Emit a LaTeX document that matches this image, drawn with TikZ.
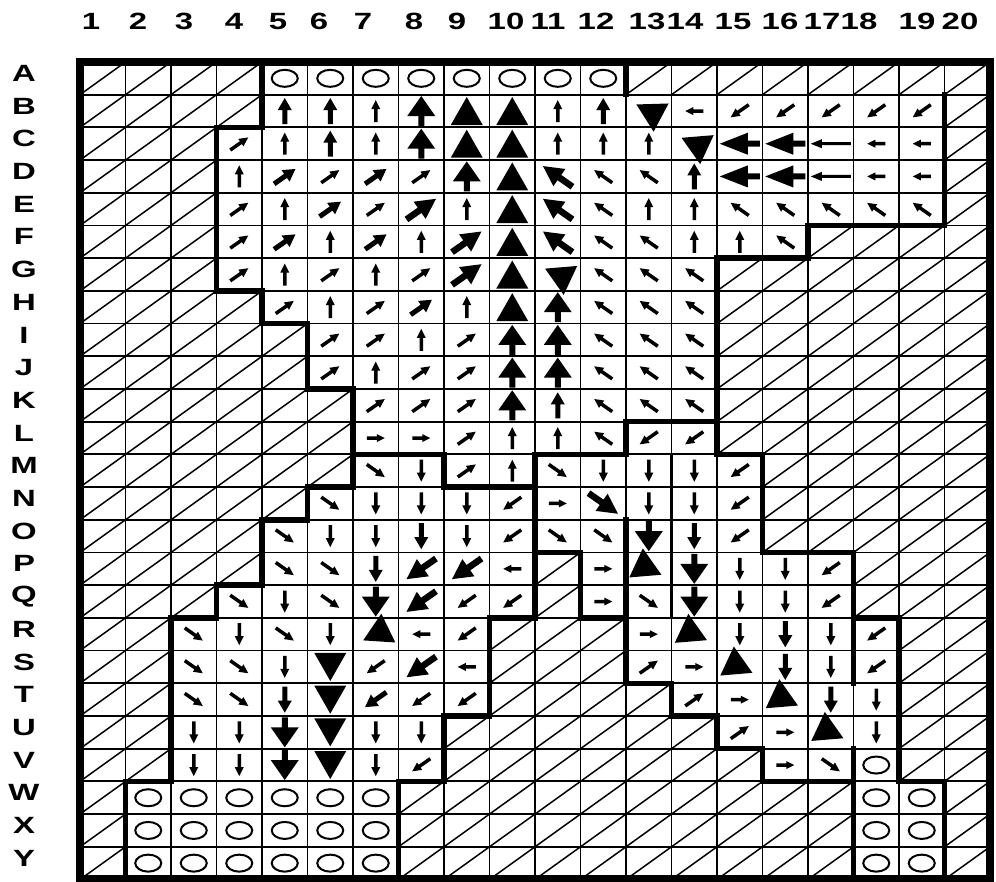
\documentclass[tikz,border=0pt]{standalone}
\usepackage{fontspec}
\setmainfont{Liberation Sans}
\newcommand\arrowshape[7]{%
  \pgfmathsetmacro\ax{80+45.5*(#1-0.5)}%
  \pgfmathsetmacro\ay{820-32.7*(#2-0.5)}%
  \fill[shift={(\ax pt,\ay pt)},rotate=#3]
    ({-#4/2},{-#7/2}) -- ({#4/2-#5},{-#7/2}) -- ({#4/2-#5},{-#6/2}) -- ({#4/2},0)
    -- ({#4/2-#5},{#6/2}) -- ({#4/2-#5},{#7/2}) -- ({-#4/2},{#7/2}) -- cycle;}
\newcommand\glS[3]{\arrowshape{#1}{#2}{#3}{22}{9}{9}{3.5}}
\newcommand\glM[3]{\arrowshape{#1}{#2}{#3}{26}{12}{14}{5}}
\newcommand\glL[3]{\arrowshape{#1}{#2}{#3}{36}{20}{21}{6.5}}
\newcommand\glW[3]{\arrowshape{#1}{#2}{#3}{40}{28}{22}{6}}
\newcommand\glG[3]{\arrowshape{#1}{#2}{#3}{40}{11}{9}{3}}
\newcommand\glH[3]{\arrowshape{#1}{#2}{#3}{18}{8}{8}{3.5}}
\newcommand\glA[3]{\arrowshape{#1}{#2}{#3}{30}{20}{28}{6}}
\newcommand\glT[3]{\arrowshape{#1}{#2}{#3}{28}{28}{32}{0}}
\newcommand\labtext[1]{\scalebox{1.4}[1]{\bfseries\fontsize{23.5}{24}\selectfont #1}}
\begin{document}
\begin{tikzpicture}[x=1pt,y=1pt,
  gridline/.style={line width=1.8pt},
  hatchline/.style={line width=1.5pt},
  bound/.style={line width=5.5pt,line cap=rect,line join=miter},
  midbound/.style={line width=3pt},
  outer/.style={line width=8pt},
  circ/.style={line width=2pt},
  lab/.style={inner sep=0pt,anchor=center}]
\fill[white] (0,0) rectangle (996,882);
\useasboundingbox (0,0) rectangle (996,882);
\begin{scope}[shift={(80pt,820pt)},x=45.5pt,y=-32.7pt]
  % hatched cells
  \foreach \r/\a/\b in {1/1/4,1/13/20,2/1/4,2/20/20,3/1/3,3/20/20,4/1/3,4/20/20,5/1/3,5/20/20,
    6/1/3,6/17/20,7/1/3,7/15/20,8/1/4,8/15/20,9/1/5,9/15/20,10/1/5,10/15/20,
    11/1/6,11/15/20,12/1/6,12/15/20,13/1/6,13/16/20,14/1/5,14/16/20,15/1/4,15/16/20,
    16/1/4,16/11/11,16/18/20,17/1/3,17/11/11,17/18/20,18/1/2,18/10/12,18/19/20,
    19/1/2,19/10/12,19/19/20,20/1/2,20/10/13,20/19/20,21/1/2,21/9/14,21/19/20,
    22/1/2,22/9/15,22/19/20,23/1/1,23/8/17,23/20/20,24/1/1,24/8/17,24/20/20,
    25/1/1,25/8/17,25/20/20}
    {\foreach \c in {\a,...,\b} {\draw[hatchline] (\c-1,\r) -- (\c,\r-1);}}
  % grid
  \foreach \i in {1,...,19} {\draw[gridline] (\i,0) -- (\i,25);}
  \foreach \j in {1,...,24} {\draw[gridline] (0,\j) -- (20,\j);}
  % circles
  \foreach \c/\r in {5/1,6/1,7/1,8/1,9/1,10/1,11/1,12/1,18/22,
    2/23,3/23,4/23,5/23,6/23,7/23,18/23,19/23,
    2/24,3/24,4/24,5/24,6/24,7/24,18/24,19/24,
    2/25,3/25,4/25,5/25,6/25,7/25,18/25,19/25}
    {\draw[circ] (\c-0.5,\r-0.5) ellipse [x radius=13pt, y radius=8.5pt];}
  % boundaries
  \draw[bound] (4,0)--(4,2)--(3,2)--(3,7)--(4,7)--(4,8)--(5,8)--(5,10)--(6,10)--(6,13)--(5,13)--(5,14)--(4,14)--(4,16)--(3,16)--(3,17)--(2,17)--(2,22)--(1,22)--(1,25);
  \draw[bound] (6,12)--(8,12)--(8,13)--(10,13)--(10,12)--(12,12)--(12,11)--(14,11)--(14,6)--(16,6)--(16,5)--(19,5)--(19,1);
  \draw[bound] (12,0)--(12,1);
  \draw[bound] (10,13)--(10,17)--(9,17)--(9,20)--(8,20)--(8,22)--(7,22)--(7,25);
  \draw[bound] (10,15)--(11,15)--(11,17)--(12,17)--(12,19)--(13,19)--(13,20)--(14,20)--(14,21)--(15,21)--(15,22)--(17,22)--(17,25);
  \draw[bound] (14,11)--(14,12)--(15,12)--(15,15)--(17,15)--(17,19);
  \draw[bound] (17,17)--(18,17)--(18,22)--(19,22)--(19,25);
  \draw[bound] (17,21)--(17,22);
  \draw[bound] (12,14)--(12,17);
  \draw[midbound] (13,12)--(13,17);
  \draw[outer] (0,0) rectangle (20,25);
\end{scope}
% arrows
\foreach \c/\r/\a/\t in {
  5/2/90/M,6/2/90/M,7/2/90/S,8/2/90/A,9/2/90/T,10/2/90/T,11/2/90/S,12/2/90/M,13/2/152/T,14/2/180/H,
  15/2/215/S,16/2/215/S,17/2/215/S,18/2/215/S,19/2/215/S,
  4/3/35/S,5/3/90/S,6/3/90/M,7/3/90/S,8/3/90/A,9/3/90/T,10/3/90/T,11/3/90/S,12/3/90/S,13/3/90/S,
  14/3/155/T,15/3/180/W,16/3/180/W,17/3/180/G,18/3/180/H,19/3/180/H,
  4/4/90/S,5/4/35/M,6/4/35/S,7/4/35/M,8/4/35/S,9/4/90/A,10/4/90/T,11/4/145/L,12/4/145/S,13/4/145/S,
  14/4/90/M,15/4/180/W,16/4/180/W,17/4/180/G,18/4/180/H,19/4/180/H,
  4/5/35/S,5/5/90/S,6/5/35/M,7/5/35/S,8/5/35/L,9/5/90/S,10/5/90/T,11/5/145/L,12/5/145/S,13/5/90/S,
  14/5/90/S,15/5/145/S,16/5/145/S,17/5/145/S,18/5/145/S,19/5/145/S,
  4/6/35/S,5/6/35/M,6/6/90/S,7/6/35/M,8/6/90/S,9/6/35/L,10/6/90/T,11/6/145/L,12/6/145/S,13/6/145/S,
  14/6/90/S,15/6/90/S,16/6/145/S,
  4/7/35/S,5/7/90/S,6/7/35/S,7/7/90/S,8/7/35/S,9/7/35/L,10/7/90/T,11/7/155/T,12/7/145/S,13/7/145/S,14/7/145/S,
  5/8/35/S,6/8/90/S,7/8/35/S,8/8/35/M,9/8/90/S,10/8/90/T,11/8/90/A,12/8/145/S,13/8/145/S,14/8/145/S,
  6/9/35/S,7/9/35/S,8/9/90/S,9/9/35/S,10/9/90/A,11/9/90/A,12/9/145/S,13/9/145/S,14/9/145/S,
  6/10/35/S,7/10/90/S,8/10/35/S,9/10/35/S,10/10/90/A,11/10/90/A,12/10/145/S,13/10/145/S,14/10/145/S,
  7/11/35/S,8/11/35/S,9/11/35/S,10/11/90/A,11/11/90/M,12/11/145/S,13/11/145/S,14/11/145/S,
  7/12/0/H,8/12/0/H,9/12/35/S,10/12/90/S,11/12/90/S,12/12/145/S,13/12/215/S,14/12/215/S,
  7/13/-35/S,8/13/-90/S,9/13/35/S,10/13/90/S,11/13/-35/S,12/13/-90/S,13/13/-90/S,14/13/-90/S,15/13/215/S,
  6/14/-35/S,7/14/-90/S,8/14/-90/S,9/14/-90/S,10/14/215/S,11/14/0/H,12/14/-35/L,13/14/-90/S,14/14/-90/S,15/14/215/S,
  5/15/-35/S,6/15/-90/S,7/15/-90/S,8/15/-90/M,9/15/-90/S,10/15/215/S,11/15/-35/S,12/15/-35/S,13/15/-90/A,14/15/-90/M,15/15/215/S,
  5/16/-35/S,6/16/-35/S,7/16/-90/M,8/16/215/L,9/16/215/L,10/16/180/H,12/16/0/H,13/16/-25/T,14/16/-90/A,15/16/-90/S,16/16/-90/S,17/16/215/S,
  4/17/-35/S,5/17/-90/S,6/17/-35/S,7/17/-90/A,8/17/215/L,9/17/215/S,10/17/215/S,12/17/0/H,13/17/-35/S,14/17/-90/A,15/17/-90/S,16/17/-90/S,17/17/215/S,
  3/18/-35/S,4/18/-90/S,5/18/-35/S,6/18/-90/S,7/18/206/T,8/18/180/H,9/18/215/S,13/18/0/H,14/18/-25/T,15/18/-90/S,16/18/-90/M,17/18/-90/S,18/18/215/S,
  3/19/-35/S,4/19/-35/S,5/19/-90/S,6/19/-90/T,7/19/215/S,8/19/215/L,9/19/180/H,13/19/35/S,14/19/0/H,15/19/-25/T,16/19/-90/M,17/19/-90/S,18/19/215/S,
  3/20/-35/S,4/20/-35/S,5/20/-90/M,6/20/-90/T,7/20/215/M,8/20/215/S,9/20/215/S,14/20/35/S,15/20/0/H,16/20/-25/T,17/20/-90/M,18/20/-90/S,
  3/21/-90/S,4/21/-90/S,5/21/-90/A,6/21/-90/T,7/21/-90/S,8/21/-90/S,15/21/35/S,16/21/0/H,17/21/-25/T,18/21/-90/S,
  3/22/-90/S,4/22/-90/S,5/22/-90/A,6/22/-90/T,7/22/-90/S,8/22/215/S,16/22/0/H,17/22/-35/S}
  {\csname gl\t\endcsname{\c}{\r}{\a}}
% column labels
\foreach \n/\x in {1/91,2/138,3/184,4/234,5/278,6/319,7/363,8/414,9/457,10/506,
  11/548,12/596,13/647,14/685,15/733,16/780,17/822,18/859,19/917,20/960}
  {\node[lab] (col\n) at (\x,860.5) {\labtext{\n}};}
% row labels
\foreach \l [count=\i] in {A,B,C,D,E,F,G,H,I,J,K,L,M,N,O,P,Q,R,S,T,U,V,W,X,Y}
  {\node[lab] (row\l) at (24,{825-32.7*(\i-0.5)}) {\labtext{\l}};}
\end{tikzpicture}
\end{document}
